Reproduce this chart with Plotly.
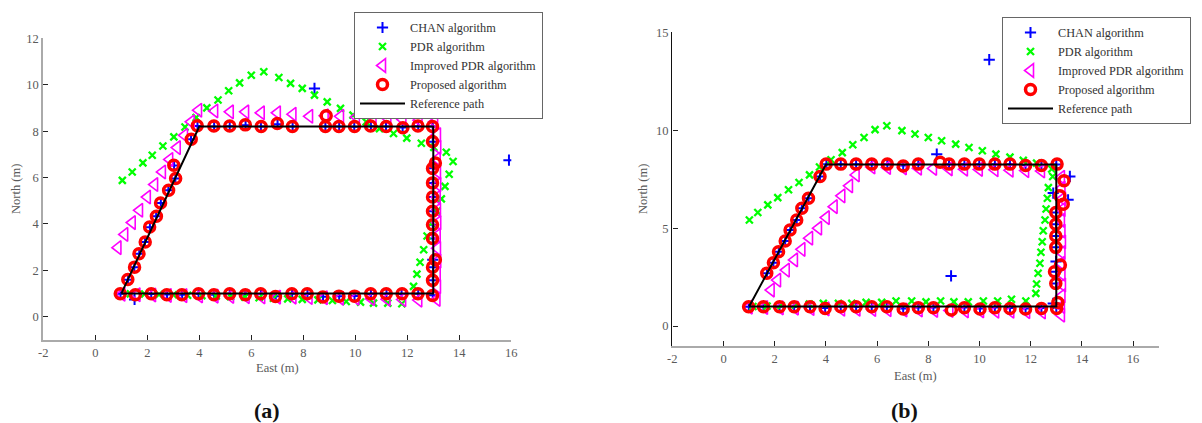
import plotly.graph_objects as go

W, H = 1202, 423

# ---------------- panel (a) ----------------
ref_a_x = [1, 4, 13, 13, 1]
ref_a_y = [1, 8.2, 8.2, 1, 1]

prop_a_x = [1.25, 1.51, 1.68, 1.92, 2.09, 2.35, 2.51, 2.82, 3.09, 3.02, 3.69, 3.92,
            4.56, 5.17, 5.77, 6.38, 7.0, 7.58, 8.85, 8.88, 9.37, 9.97, 10.59, 11.19, 11.83, 12.41, 12.97,
            12.97, 13.08, 12.97, 12.97, 12.97, 12.97, 12.97, 12.97, 13.08, 12.97, 12.97, 12.97,
            12.41, 11.8, 11.19, 10.59, 9.97, 9.37, 8.75, 8.15, 7.56, 6.93, 6.36, 5.77, 5.17, 4.56,
            3.97, 3.33, 2.75, 2.15, 1.54, 0.96]
prop_a_y = [1.61, 2.14, 2.72, 3.22, 3.87, 4.33, 4.9, 5.45, 5.96, 6.53, 7.65, 8.23,
            8.22, 8.22, 8.27, 8.2, 8.33, 8.2, 8.2, 8.66, 8.2, 8.2, 8.22, 8.2, 8.15, 8.22, 8.2,
            7.55, 6.63, 6.39, 5.77, 5.16, 4.55, 3.97, 3.37, 2.46, 2.14, 1.57, 0.92,
            0.99, 0.99, 0.99, 0.99, 0.89, 0.89, 0.85, 0.99, 0.99, 0.87, 0.99, 0.95, 0.99, 0.95,
            0.99, 0.95, 0.95, 0.99, 0.95, 0.99]

chan_a_x = [1.26, 1.5, 1.69, 1.91, 2.1, 2.34, 2.52, 2.81, 3.08, 3.03, 3.68, 3.93,
            4.57, 5.17, 5.78, 6.37, 7.01, 7.59, 8.43, 8.85, 9.38, 9.96, 10.6, 11.18, 11.82, 12.42, 12.98,
            12.98, 12.99, 12.98, 12.98, 12.98, 12.98, 12.98, 12.98, 12.99, 12.98, 12.98,
            12.42, 11.78, 11.2, 10.6, 9.97, 9.38, 8.76, 8.16, 7.57, 6.94, 6.37, 5.77, 5.17, 4.57,
            3.97, 3.34, 2.76, 2.15, 1.51, 0.97, 15.91]
chan_a_y = [1.6, 2.13, 2.72, 3.22, 3.86, 4.33, 4.9, 5.45, 5.96, 6.52, 7.65, 8.22,
            8.2, 8.21, 8.25, 8.2, 8.3, 8.2, 9.84, 8.2, 8.2, 8.19, 8.21, 8.2, 8.16, 8.21, 8.2,
            7.54, 6.4, 5.77, 5.16, 4.55, 3.97, 3.37, 2.46, 2.14, 1.57, 0.93,
            0.99, 0.98, 0.99, 0.98, 0.9, 0.89, 0.86, 0.98, 0.99, 0.88, 0.98, 0.95, 0.98, 0.95,
            0.98, 0.95, 0.96, 0.98, 0.75, 0.99, 6.75]

pdr_a_x = [1.35, 1.9, 2.45, 3.0, 3.55, 4.1, 4.65, 5.2, 5.75, 6.3, 6.85, 7.4, 7.96, 8.56,
           9.12, 9.65, 10.2, 10.7, 11.25, 11.79,
           12.24, 12.37, 12.49, 12.63, 12.76, 12.94, 13.14, 13.31, 13.45, 13.61, 13.76, 13.5, 13.02,
           12.54, 11.98, 11.47, 10.93, 10.42, 9.91, 9.43, 8.92, 8.43, 7.96, 7.51, 7.06, 6.48,
           6.0, 5.55, 5.13, 4.72, 4.29, 3.88, 3.45, 3.02, 2.6, 2.19, 1.83, 1.42, 1.04]
pdr_a_y = [0.99, 0.98, 0.96, 0.95, 0.93, 0.91, 0.89, 0.87, 0.85, 0.82, 0.8, 0.77, 0.75, 0.73,
           0.7, 0.66, 0.63, 0.59, 0.59, 0.56,
           1.31, 1.84, 2.35, 2.89, 3.48, 4.03, 4.56, 5.08, 5.62, 6.14, 6.69, 7.09, 7.3,
           7.48, 7.7, 7.9, 8.11, 8.4, 8.69, 8.98, 9.26, 9.55, 9.84, 10.06, 10.31, 10.56,
           10.41, 10.08, 9.74, 9.34, 9.0, 8.59, 8.18, 7.75, 7.36, 6.96, 6.63, 6.24, 5.88]

ipdr_a_x = [0.87, 1.13, 1.42, 1.7, 2.0, 2.28, 2.58, 2.86, 3.15, 3.43, 3.69, 3.97,
            4.59, 5.19, 5.78, 6.38, 7.0, 7.6, 8.24, 8.84, 9.43, 10.04, 10.68, 11.25, 11.83, 12.45, 13.05,
            13.16, 13.17, 13.15, 13.16, 13.17, 13.15, 13.16, 13.17, 13.15, 13.16, 13.17, 13.15, 13.16, 13.14,
            12.44, 11.82, 11.22, 10.62, 10.02, 9.42, 8.8, 8.22, 7.6, 7.0, 6.4, 5.8, 5.2, 4.6,
            4.0, 3.4, 2.8, 2.2, 1.6, 1.02]
ipdr_a_y = [2.98, 3.55, 4.06, 4.59, 5.16, 5.7, 6.24, 6.78, 7.29, 7.82, 8.4, 8.9,
            8.87, 8.83, 8.83, 8.79, 8.79, 8.73, 8.64, 8.66, 8.64, 8.61, 8.59, 8.55, 8.5, 8.47, 8.4,
            7.85, 7.3, 6.8, 6.25, 5.7, 5.15, 4.6, 4.05, 3.5, 2.95, 2.4, 1.85, 1.3, 0.75,
            0.72, 0.74, 0.76, 0.78, 0.8, 0.8, 0.82, 0.83, 0.85, 0.85, 0.86, 0.87, 0.88, 0.89,
            0.9, 0.91, 0.92, 0.94, 0.95, 0.97]

# ---------------- panel (b) ----------------
ref_b_x = [1, 4, 13, 13, 1]
ref_b_y = [1, 8.25, 8.25, 1, 1]

prop_b_x = [1.69, 1.95, 2.15, 2.41, 2.6, 2.86, 3.06, 3.32, 3.77, 4.01,
            4.58, 5.18, 5.79, 6.4, 7.02, 7.61, 8.46, 8.81, 9.41, 9.99, 10.6, 11.19, 11.8, 12.42, 13.03,
            13.3, 13.14, 13.27, 12.98, 12.98, 12.98, 12.98, 13.16, 12.93, 12.98, 13.06, 13.01,
            12.42, 11.8, 11.19, 10.6, 10.02, 9.41, 8.9, 8.2, 7.61, 7.02, 6.38, 5.79, 5.18, 4.58,
            3.97, 3.38, 2.76, 2.19, 1.56, 0.98]
prop_b_y = [2.7, 3.24, 3.8, 4.35, 4.91, 5.42, 6.02, 6.53, 7.64, 8.27,
            8.27, 8.27, 8.27, 8.27, 8.17, 8.27, 8.37, 8.27, 8.27, 8.27, 8.27, 8.27, 8.2, 8.2, 8.27,
            7.42, 6.65, 6.22, 5.8, 5.2, 4.6, 4.02, 3.12, 2.78, 2.18, 1.21, 0.9,
            0.9, 0.87, 0.9, 0.94, 0.87, 0.94, 0.82, 0.94, 0.94, 0.87, 0.99, 0.99, 0.99, 0.99,
            0.9, 0.99, 0.99, 0.99, 0.99, 0.99]

chan_b_x = [1.7, 1.95, 2.16, 2.41, 2.61, 2.86, 3.06, 3.32, 3.77, 4.02,
            4.58, 5.18, 5.79, 6.4, 7.02, 7.61, 8.33, 8.81, 9.41, 9.99, 10.6, 11.19, 11.8, 12.42, 13.0,
            13.53, 12.88, 13.46, 12.99, 12.99, 12.99, 12.99, 12.99, 12.99, 12.99, 12.88, 13.0,
            12.42, 11.8, 11.19, 10.6, 10.02, 9.41, 8.89, 8.2, 7.61, 7.02, 6.38, 5.79, 5.18, 4.58,
            3.97, 3.38, 2.76, 2.19, 1.56, 0.99, 10.38]
chan_b_y = [2.7, 3.24, 3.8, 4.35, 4.91, 5.42, 6.02, 6.53, 7.64, 8.26,
            8.26, 8.26, 8.26, 8.26, 8.2, 8.26, 8.78, 8.26, 8.26, 8.26, 8.26, 8.26, 8.22, 8.22, 8.25,
            7.64, 6.79, 6.45, 5.8, 5.2, 4.6, 4.02, 3.3, 2.78, 2.18, 1.16, 0.95,
            0.92, 0.9, 0.92, 0.95, 0.9, 0.95, 2.56, 0.95, 0.95, 0.9, 0.99, 0.99, 0.98, 0.99,
            0.92, 0.99, 0.98, 0.99, 0.99, 0.99, 13.6]

pdr_b_x = [1.15, 1.7, 2.25, 2.8, 3.35, 3.9, 4.49, 5.01, 5.57, 6.18, 6.74, 7.35, 7.91, 8.48,
           9.0, 9.56, 10.15, 10.71, 11.25, 11.81,
           12.2, 12.23, 12.29, 12.36, 12.4, 12.45, 12.49, 12.56, 12.6, 12.65, 12.69, 12.86, 12.82,
           12.23, 11.71, 11.19, 10.64, 10.11, 9.59, 9.07, 8.52, 8.0, 7.48, 6.97, 6.38, 5.92,
           5.49, 5.05, 4.64, 4.2, 3.75, 3.36, 2.95, 2.54, 2.12, 1.73, 1.34, 1.01]
pdr_b_y = [1.0, 1.02, 1.05, 1.08, 1.12, 1.16, 1.16, 1.16, 1.21, 1.21, 1.28, 1.28, 1.24, 1.28,
           1.24, 1.24, 1.28, 1.28, 1.37, 1.28,
           1.67, 2.15, 2.7, 3.21, 3.77, 4.31, 4.87, 5.42, 5.98, 6.53, 7.07, 7.64, 8.02,
           8.32, 8.46, 8.63, 8.78, 8.95, 9.12, 9.29, 9.46, 9.63, 9.81, 9.98, 10.23, 10.03,
           9.63, 9.26, 8.86, 8.49, 8.12, 7.72, 7.33, 6.96, 6.56, 6.19, 5.8, 5.42]

ipdr_b_x = [1.86, 2.11, 2.45, 2.77, 3.06, 3.36, 3.71, 4.01, 4.32, 4.62, 4.92, 5.18,
            5.79, 6.4, 7.02, 7.61, 8.2, 8.81, 9.41, 9.99, 10.6, 11.19, 11.8, 12.42,
            13.2, 13.22, 13.24, 13.22, 13.2, 13.22, 13.24, 13.22, 13.2, 13.22, 13.24, 13.22, 13.2, 13.2,
            12.45, 11.84, 11.22, 10.63, 10.04, 9.44, 8.84, 8.24, 7.64, 7.04, 6.42, 5.82, 5.21, 4.61,
            4.0, 3.41, 2.8, 2.21, 1.6, 1.0]
ipdr_b_y = [1.84, 2.35, 2.86, 3.38, 3.92, 4.49, 5.0, 5.54, 6.1, 6.65, 7.16, 7.72,
            8.12, 8.1, 8.08, 8.06, 8.05, 8.03, 8.01, 8.0, 7.98, 7.96, 7.94, 7.92,
            7.6, 7.05, 6.5, 5.95, 5.4, 4.85, 4.3, 3.75, 3.2, 2.65, 2.1, 1.55, 1.0, 0.56,
            0.72, 0.74, 0.76, 0.76, 0.78, 0.78, 0.8, 0.8, 0.82, 0.82, 0.84, 0.85, 0.86, 0.86,
            0.88, 0.9, 0.92, 0.93, 0.95, 0.97]

# axis ticks
x_ticks = [-2, 0, 2, 4, 6, 8, 10, 12, 14, 16]
x_tick_text = ["-2", "0", "2", "4", "6", "8", "10", "12", "14", "16"]
ya_ticks = [0, 2, 4, 6, 8, 10, 12]
yb_ticks = [0, 5, 10, 15]

# ---------------- styling ----------------
SERIF = "Liberation Serif"
TXT = "#333333"
LBL = "#5a5a5a"

names = ["CHAN algorithm", "PDR algorithm", "Improved PDR algorithm",
         "Proposed algorithm", "Reference path"]

styles = {
    "chan": dict(mode="markers", marker=dict(symbol="cross-thin", size=8, color="rgba(0,0,0,0)",
                                             line=dict(color="#0000ff", width=2))),
    "pdr": dict(mode="markers", marker=dict(symbol="x-thin", size=7, color="rgba(0,0,0,0)",
                                            line=dict(color="#00ff00", width=2.3))),
    "ipdr": dict(mode="markers", marker=dict(symbol="triangle-left-open", size=12, color="#ff00ff",
                                             line=dict(color="#ff00ff", width=1.6))),
    "prop": dict(mode="markers", marker=dict(symbol="circle-open", size=10, color="#ff0000",
                                             line=dict(color="#ff0000", width=3.5))),
    "ref": dict(mode="lines", line=dict(color="#000000", width=2)),
}

fig = go.Figure()

panels = [
    ("x", "y", "legend",
     [(chan_a_x, chan_a_y), (pdr_a_x, pdr_a_y), (ipdr_a_x, ipdr_a_y),
      (prop_a_x, prop_a_y), (ref_a_x, ref_a_y)]),
    ("x2", "y2", "legend2",
     [(chan_b_x, chan_b_y), (pdr_b_x, pdr_b_y), (ipdr_b_x, ipdr_b_y),
      (prop_b_x, prop_b_y), (ref_b_x, ref_b_y)]),
]
keys = ["chan", "pdr", "ipdr", "prop", "ref"]

for xa, ya, lg, series in panels:
    for key, name, (sx, sy) in zip(keys, names, series):
        fig.add_trace(go.Scatter(x=sx, y=sy, name=name, xaxis=xa, yaxis=ya,
                                 legend=lg, hoverinfo="skip", **styles[key]))


def px_x(p):
    return p / W


def px_y(p):
    return 1 - p / H


axis_common = dict(showgrid=False, zeroline=False, showline=True, mirror=False,
                   ticks="inside", ticklen=5, tickwidth=1, tickcolor="#222222",
                   tickfont=dict(family=SERIF, size=12.5, color=LBL))

legend_common = dict(bgcolor="white", bordercolor="#666666", borderwidth=1,
                     font=dict(family=SERIF, size=12.3, color=TXT),
                     itemwidth=45, xanchor="left", yanchor="top",
                     tracegroupgap=0, itemclick=False)

fig.update_layout(
    width=W, height=H,
    margin=dict(l=0, r=0, t=0, b=0, autoexpand=False),
    paper_bgcolor="white", plot_bgcolor="white",
    xaxis=dict(domain=[px_x(43.3), px_x(511.3)], range=[-2, 16],
               tickvals=x_ticks, ticktext=x_tick_text,
               anchor="y", linecolor="#aaaaaa", linewidth=2, **axis_common),
    yaxis=dict(domain=[px_y(340), px_y(38.3)], range=[-1, 12], tickvals=ya_ticks,
               anchor="x", linecolor="#aaaaaa", linewidth=2, **axis_common),
    xaxis2=dict(domain=[px_x(672.3), px_x(1158.7)], range=[-2, 17],
                tickvals=x_ticks, ticktext=x_tick_text,
                anchor="y2", linecolor="#aaaaaa", linewidth=2, **axis_common),
    yaxis2=dict(domain=[px_y(345.7), px_y(32.3)], range=[-1, 15], tickvals=yb_ticks,
                anchor="x2", linecolor="#111111", linewidth=1.4, **axis_common),
    legend=dict(x=px_x(354), y=px_y(12), **legend_common),
    legend2=dict(x=px_x(1002), y=px_y(17), **legend_common),
    showlegend=True,
)

ann = [
    dict(text="East (m)", x=px_x(277), y=px_y(368), size=12.5, angle=0, bold=False),
    dict(text="North (m)", x=px_x(16), y=px_y(189), size=12.5, angle=-90, bold=False),
    dict(text="East (m)", x=px_x(915), y=px_y(376), size=12.5, angle=0, bold=False),
    dict(text="North (m)", x=px_x(643), y=px_y(189), size=12.5, angle=-90, bold=False),
    dict(text="<b>(a)</b>", x=px_x(267), y=px_y(410), size=22, angle=0, bold=True),
    dict(text="<b>(b)</b>", x=px_x(904), y=px_y(410), size=22, angle=0, bold=True),
]
for a in ann:
    fig.add_annotation(text=a["text"], x=a["x"], y=a["y"], xref="paper", yref="paper",
                       xanchor="center", yanchor="middle", showarrow=False,
                       textangle=a["angle"],
                       font=dict(family=SERIF, size=a["size"],
                                 color="#111111" if a["bold"] else LBL))

fig.write_html("out.html")
